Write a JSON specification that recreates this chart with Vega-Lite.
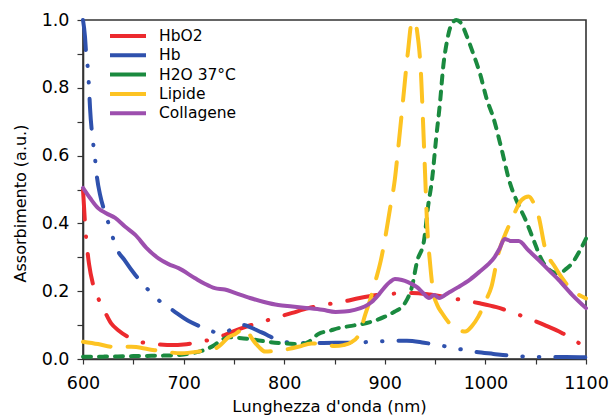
{
  "$schema": "https://vega.github.io/schema/vega-lite/v6.json",
  "width": 503,
  "height": 339,
  "autosize": "none",
  "padding": {"left": 83, "top": 20, "right": 23, "bottom": 56},
  "background": "white",
  "config": {
    "font": "DejaVu Sans",
    "view": {"stroke": "#333", "strokeWidth": 1.6},
    "axis": {"domainColor": "#333", "domainWidth": 1.6, "tickColor": "#333", "tickWidth": 1.2, "labelColor": "#000", "titleColor": "#000", "labelFontSize": 17.5, "titleFontSize": 16.5, "titleFontWeight": "normal", "grid": false, "labelOverlap": false, "labelFlush": false},
    "line": {"strokeWidth": 4, "strokeCap": "round", "interpolate": "monotone", "clip": true}
  },
  "data": {"values": [
    {"s":"HbO2","x":600,"y":0.50},{"s":"HbO2","x":601,"y":0.45},{"s":"HbO2","x":602,"y":0.40},{"s":"HbO2","x":604,"y":0.33},{"s":"HbO2","x":606,"y":0.28},{"s":"HbO2","x":610,"y":0.22},{"s":"HbO2","x":615,"y":0.18},{"s":"HbO2","x":620,"y":0.15},{"s":"HbO2","x":628,"y":0.105},{"s":"HbO2","x":635,"y":0.085},{"s":"HbO2","x":645,"y":0.065},{"s":"HbO2","x":655,"y":0.052},{"s":"HbO2","x":665,"y":0.046},{"s":"HbO2","x":675,"y":0.043},{"s":"HbO2","x":690,"y":0.041},{"s":"HbO2","x":700,"y":0.043},{"s":"HbO2","x":710,"y":0.047},{"s":"HbO2","x":725,"y":0.056},{"s":"HbO2","x":740,"y":0.07},{"s":"HbO2","x":750,"y":0.082},{"s":"HbO2","x":761,"y":0.094},{"s":"HbO2","x":775,"y":0.107},{"s":"HbO2","x":791,"y":0.121},{"s":"HbO2","x":808,"y":0.136},{"s":"HbO2","x":824,"y":0.15},{"s":"HbO2","x":840,"y":0.16},{"s":"HbO2","x":857,"y":0.168},{"s":"HbO2","x":875,"y":0.18},{"s":"HbO2","x":893,"y":0.189},{"s":"HbO2","x":910,"y":0.193},{"s":"HbO2","x":927,"y":0.195},{"s":"HbO2","x":945,"y":0.19},{"s":"HbO2","x":960,"y":0.183},{"s":"HbO2","x":975,"y":0.175},{"s":"HbO2","x":993,"y":0.165},{"s":"HbO2","x":1011,"y":0.153},{"s":"HbO2","x":1028,"y":0.136},{"s":"HbO2","x":1045,"y":0.117},{"s":"HbO2","x":1059,"y":0.10},{"s":"HbO2","x":1076,"y":0.077},{"s":"HbO2","x":1093,"y":0.047},{"s":"HbO2","x":1100,"y":0.035},
    {"s":"Hb","x":600,"y":1.0},{"s":"Hb","x":602,"y":0.95},{"s":"Hb","x":603,"y":0.906},{"s":"Hb","x":605,"y":0.85},{"s":"Hb","x":606,"y":0.80},{"s":"Hb","x":607,"y":0.74},{"s":"Hb","x":610,"y":0.64},{"s":"Hb","x":612,"y":0.59},{"s":"Hb","x":614,"y":0.534},{"s":"Hb","x":617,"y":0.484},{"s":"Hb","x":622,"y":0.43},{"s":"Hb","x":627,"y":0.386},{"s":"Hb","x":632,"y":0.336},{"s":"Hb","x":642,"y":0.289},{"s":"Hb","x":652,"y":0.248},{"s":"Hb","x":663,"y":0.21},{"s":"Hb","x":675,"y":0.174},{"s":"Hb","x":690,"y":0.142},{"s":"Hb","x":705,"y":0.112},{"s":"Hb","x":715,"y":0.098},{"s":"Hb","x":722,"y":0.09},{"s":"Hb","x":730,"y":0.08},{"s":"Hb","x":737,"y":0.077},{"s":"Hb","x":744,"y":0.082},{"s":"Hb","x":752,"y":0.097},{"s":"Hb","x":760,"y":0.10},{"s":"Hb","x":766,"y":0.094},{"s":"Hb","x":775,"y":0.082},{"s":"Hb","x":783,"y":0.071},{"s":"Hb","x":790,"y":0.06},{"s":"Hb","x":798,"y":0.051},{"s":"Hb","x":810,"y":0.048},{"s":"Hb","x":827,"y":0.047},{"s":"Hb","x":851,"y":0.048},{"s":"Hb","x":870,"y":0.048},{"s":"Hb","x":887,"y":0.051},{"s":"Hb","x":905,"y":0.053},{"s":"Hb","x":922,"y":0.054},{"s":"Hb","x":939,"y":0.048},{"s":"Hb","x":957,"y":0.039},{"s":"Hb","x":975,"y":0.029},{"s":"Hb","x":990,"y":0.021},{"s":"Hb","x":1008,"y":0.015},{"s":"Hb","x":1024,"y":0.01},{"s":"Hb","x":1043,"y":0.007},{"s":"Hb","x":1063,"y":0.006},{"s":"Hb","x":1080,"y":0.006},{"s":"Hb","x":1100,"y":0.005},
    {"s":"H2O 37°C","x":600,"y":0.007},{"s":"H2O 37°C","x":620,"y":0.007},{"s":"H2O 37°C","x":640,"y":0.008},{"s":"H2O 37°C","x":660,"y":0.009},{"s":"H2O 37°C","x":680,"y":0.01},{"s":"H2O 37°C","x":695,"y":0.012},{"s":"H2O 37°C","x":710,"y":0.018},{"s":"H2O 37°C","x":721,"y":0.027},{"s":"H2O 37°C","x":730,"y":0.04},{"s":"H2O 37°C","x":737,"y":0.055},{"s":"H2O 37°C","x":745,"y":0.064},{"s":"H2O 37°C","x":755,"y":0.062},{"s":"H2O 37°C","x":766,"y":0.059},{"s":"H2O 37°C","x":783,"y":0.051},{"s":"H2O 37°C","x":800,"y":0.046},{"s":"H2O 37°C","x":816,"y":0.044},{"s":"H2O 37°C","x":825,"y":0.052},{"s":"H2O 37°C","x":834,"y":0.074},{"s":"H2O 37°C","x":845,"y":0.083},{"s":"H2O 37°C","x":854,"y":0.091},{"s":"H2O 37°C","x":865,"y":0.097},{"s":"H2O 37°C","x":877,"y":0.103},{"s":"H2O 37°C","x":890,"y":0.113},{"s":"H2O 37°C","x":900,"y":0.125},{"s":"H2O 37°C","x":910,"y":0.14},{"s":"H2O 37°C","x":917,"y":0.154},{"s":"H2O 37°C","x":922,"y":0.175},{"s":"H2O 37°C","x":927,"y":0.213},{"s":"H2O 37°C","x":932,"y":0.287},{"s":"H2O 37°C","x":939,"y":0.35},{"s":"H2O 37°C","x":943,"y":0.45},{"s":"H2O 37°C","x":947,"y":0.53},{"s":"H2O 37°C","x":951,"y":0.65},{"s":"H2O 37°C","x":955,"y":0.76},{"s":"H2O 37°C","x":958,"y":0.86},{"s":"H2O 37°C","x":962,"y":0.94},{"s":"H2O 37°C","x":966,"y":0.985},{"s":"H2O 37°C","x":971,"y":1.0},{"s":"H2O 37°C","x":976,"y":0.99},{"s":"H2O 37°C","x":981,"y":0.956},{"s":"H2O 37°C","x":988,"y":0.9},{"s":"H2O 37°C","x":995,"y":0.838},{"s":"H2O 37°C","x":1001,"y":0.77},{"s":"H2O 37°C","x":1008,"y":0.711},{"s":"H2O 37°C","x":1016,"y":0.62},{"s":"H2O 37°C","x":1024,"y":0.523},{"s":"H2O 37°C","x":1032,"y":0.46},{"s":"H2O 37°C","x":1040,"y":0.41},{"s":"H2O 37°C","x":1048,"y":0.35},{"s":"H2O 37°C","x":1056,"y":0.292},{"s":"H2O 37°C","x":1065,"y":0.26},{"s":"H2O 37°C","x":1073,"y":0.253},{"s":"H2O 37°C","x":1080,"y":0.265},{"s":"H2O 37°C","x":1086,"y":0.282},{"s":"H2O 37°C","x":1093,"y":0.315},{"s":"H2O 37°C","x":1100,"y":0.355},
    {"s":"Lipide","x":600,"y":0.051},{"s":"Lipide","x":615,"y":0.044},{"s":"Lipide","x":630,"y":0.036},{"s":"Lipide","x":648,"y":0.036},{"s":"Lipide","x":665,"y":0.029},{"s":"Lipide","x":680,"y":0.022},{"s":"Lipide","x":698,"y":0.017},{"s":"Lipide","x":715,"y":0.022},{"s":"Lipide","x":731,"y":0.03},{"s":"Lipide","x":738,"y":0.045},{"s":"Lipide","x":744,"y":0.063},{"s":"Lipide","x":752,"y":0.075},{"s":"Lipide","x":758,"y":0.088},{"s":"Lipide","x":761,"y":0.093},{"s":"Lipide","x":765,"y":0.075},{"s":"Lipide","x":769,"y":0.056},{"s":"Lipide","x":775,"y":0.035},{"s":"Lipide","x":781,"y":0.022},{"s":"Lipide","x":795,"y":0.025},{"s":"Lipide","x":814,"y":0.036},{"s":"Lipide","x":827,"y":0.046},{"s":"Lipide","x":840,"y":0.045},{"s":"Lipide","x":850,"y":0.038},{"s":"Lipide","x":859,"y":0.041},{"s":"Lipide","x":867,"y":0.05},{"s":"Lipide","x":874,"y":0.071},{"s":"Lipide","x":881,"y":0.135},{"s":"Lipide","x":886,"y":0.18},{"s":"Lipide","x":891,"y":0.233},{"s":"Lipide","x":896,"y":0.29},{"s":"Lipide","x":900,"y":0.351},{"s":"Lipide","x":905,"y":0.44},{"s":"Lipide","x":910,"y":0.53},{"s":"Lipide","x":913,"y":0.612},{"s":"Lipide","x":918,"y":0.759},{"s":"Lipide","x":923,"y":0.906},{"s":"Lipide","x":927,"y":0.995},{"s":"Lipide","x":930,"y":0.995},{"s":"Lipide","x":933,"y":0.946},{"s":"Lipide","x":934,"y":0.92},{"s":"Lipide","x":936,"y":0.84},{"s":"Lipide","x":938,"y":0.7},{"s":"Lipide","x":940,"y":0.55},{"s":"Lipide","x":942,"y":0.4},{"s":"Lipide","x":945,"y":0.282},{"s":"Lipide","x":948,"y":0.2},{"s":"Lipide","x":952,"y":0.16},{"s":"Lipide","x":957,"y":0.135},{"s":"Lipide","x":963,"y":0.11},{"s":"Lipide","x":970,"y":0.09},{"s":"Lipide","x":980,"y":0.081},{"s":"Lipide","x":986,"y":0.095},{"s":"Lipide","x":993,"y":0.125},{"s":"Lipide","x":1000,"y":0.17},{"s":"Lipide","x":1006,"y":0.213},{"s":"Lipide","x":1013,"y":0.312},{"s":"Lipide","x":1020,"y":0.37},{"s":"Lipide","x":1026,"y":0.41},{"s":"Lipide","x":1036,"y":0.469},{"s":"Lipide","x":1043,"y":0.479},{"s":"Lipide","x":1048,"y":0.46},{"s":"Lipide","x":1053,"y":0.42},{"s":"Lipide","x":1059,"y":0.331},{"s":"Lipide","x":1069,"y":0.272},{"s":"Lipide","x":1076,"y":0.24},{"s":"Lipide","x":1083,"y":0.213},{"s":"Lipide","x":1090,"y":0.195},{"s":"Lipide","x":1100,"y":0.179},
    {"s":"Collagene","x":600,"y":0.505},{"s":"Collagene","x":607,"y":0.475},{"s":"Collagene","x":615,"y":0.445},{"s":"Collagene","x":623,"y":0.43},{"s":"Collagene","x":632,"y":0.416},{"s":"Collagene","x":642,"y":0.39},{"s":"Collagene","x":652,"y":0.366},{"s":"Collagene","x":663,"y":0.328},{"s":"Collagene","x":675,"y":0.297},{"s":"Collagene","x":685,"y":0.28},{"s":"Collagene","x":695,"y":0.268},{"s":"Collagene","x":711,"y":0.239},{"s":"Collagene","x":721,"y":0.222},{"s":"Collagene","x":731,"y":0.209},{"s":"Collagene","x":741,"y":0.205},{"s":"Collagene","x":751,"y":0.195},{"s":"Collagene","x":766,"y":0.18},{"s":"Collagene","x":780,"y":0.168},{"s":"Collagene","x":794,"y":0.159},{"s":"Collagene","x":808,"y":0.155},{"s":"Collagene","x":824,"y":0.15},{"s":"Collagene","x":838,"y":0.145},{"s":"Collagene","x":851,"y":0.139},{"s":"Collagene","x":860,"y":0.14},{"s":"Collagene","x":870,"y":0.145},{"s":"Collagene","x":880,"y":0.155},{"s":"Collagene","x":887,"y":0.168},{"s":"Collagene","x":894,"y":0.19},{"s":"Collagene","x":900,"y":0.212},{"s":"Collagene","x":905,"y":0.227},{"s":"Collagene","x":910,"y":0.236},{"s":"Collagene","x":917,"y":0.233},{"s":"Collagene","x":923,"y":0.227},{"s":"Collagene","x":932,"y":0.212},{"s":"Collagene","x":938,"y":0.195},{"s":"Collagene","x":944,"y":0.18},{"s":"Collagene","x":949,"y":0.189},{"s":"Collagene","x":954,"y":0.18},{"s":"Collagene","x":963,"y":0.195},{"s":"Collagene","x":973,"y":0.212},{"s":"Collagene","x":985,"y":0.235},{"s":"Collagene","x":996,"y":0.262},{"s":"Collagene","x":1003,"y":0.28},{"s":"Collagene","x":1009,"y":0.30},{"s":"Collagene","x":1014,"y":0.325},{"s":"Collagene","x":1019,"y":0.354},{"s":"Collagene","x":1026,"y":0.348},{"s":"Collagene","x":1033,"y":0.348},{"s":"Collagene","x":1043,"y":0.32},{"s":"Collagene","x":1053,"y":0.292},{"s":"Collagene","x":1063,"y":0.262},{"s":"Collagene","x":1073,"y":0.233},{"s":"Collagene","x":1086,"y":0.19},{"s":"Collagene","x":1100,"y":0.15}
  ]},
  "encoding": {
    "x": {"field": "x", "type": "quantitative", "scale": {"domain": [600, 1100], "nice": false},
      "axis": {"title": "Lunghezza d'onda (nm)", "values": [600,650,700,750,800,850,900,950,1000,1050,1100], "labelExpr": "datum.value % 100 == 0 ? format(datum.value, 'd') : ''", "tickSize": 5, "labelPadding": 10, "titleX": 246, "titleY": 52, "titleBaseline": "alphabetic"}},
    "y": {"field": "y", "type": "quantitative", "scale": {"domain": [0, 1], "nice": false},
      "axis": {"title": "Assorbimento (a.u.)", "titleFontSize": 16, "values": [0,0.1,0.2,0.3,0.4,0.5,0.6,0.7,0.8,0.9,1.0], "labelExpr": "round(datum.value*10) % 2 == 0 ? format(datum.value, '.1f') : ''", "tickSize": 6, "labelPadding": 8, "titleX": -58, "titleY": 183, "titleBaseline": "alphabetic"}},
    "color": {"field": "s", "type": "nominal", "sort": null,
      "scale": {"domain": ["HbO2", "Hb", "H2O 37°C", "Lipide", "Collagene"], "range": ["#ec2a2e", "#2f51ad", "#1a8a3f", "#fdc322", "#9d4fae"]},
      "legend": {"title": null, "orient": "none", "legendX": 35.5, "legendY": 6.5, "padding": 0, "symbolType": "M-2.4,0H2.4", "symbolStrokeWidth": 4, "symbolSize": 225, "labelFontSize": 15.5, "labelColor": "#000", "labelOffset": 21.5, "rowPadding": 1.3,
        "encode": {"symbols": {"update": {"strokeDash": {"signal": "datum.value == 'H2O 37°C' ? [8, 8] : [1, 0]"}, "strokeCap": {"value": "round"}}}}}}
  },
  "layer": [
    {"transform": [{"filter": "datum.s == 'HbO2'"}], "mark": {"type": "line", "strokeDash": [30, 17, 0.5, 17]}},
    {"transform": [{"filter": "datum.s == 'Hb'"}], "mark": {"type": "line", "strokeDash": [30, 16, 0.5, 16, 0.5, 16]}},
    {"transform": [{"filter": "datum.s == 'H2O 37°C'"}], "mark": {"type": "line", "strokeDash": [8, 8]}},
    {"transform": [{"filter": "datum.s == 'Lipide'"}], "mark": {"type": "line", "strokeDash": [28, 17]}},
    {"transform": [{"filter": "datum.s == 'Collagene'"}], "mark": {"type": "line"}}
  ]
}
